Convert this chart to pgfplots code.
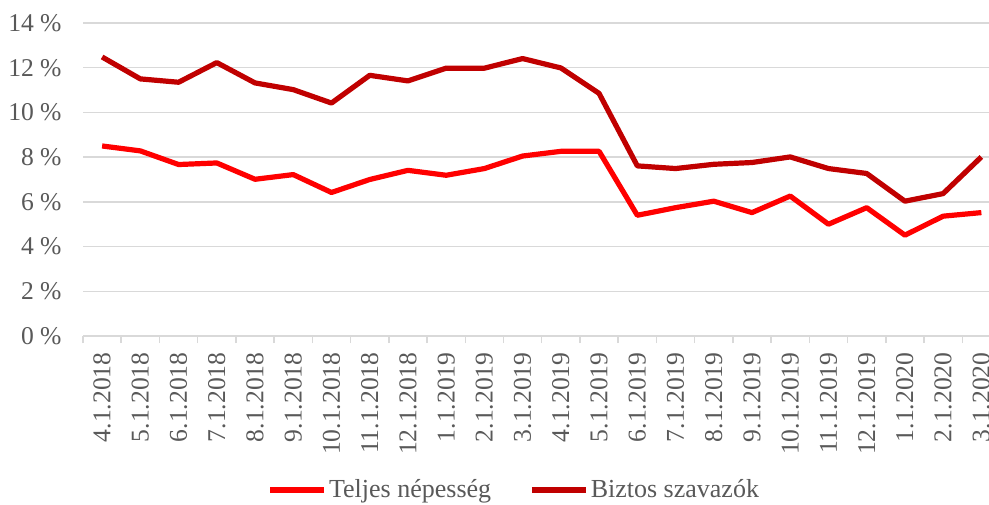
\documentclass[border=0pt]{standalone}
\usepackage{fontspec}
\setmainfont{Liberation Serif}
\usepackage{pgfplots}
\pgfplotsset{compat=1.18}
\definecolor{txt}{HTML}{595959}
\definecolor{gridc}{HTML}{D9D9D9}
\definecolor{c1}{HTML}{FF0000}
\definecolor{c2}{HTML}{C00000}
\begin{document}
\begin{tikzpicture}
\path[use as bounding box] (-41.5pt,-84pt) rectangle (453pt,168pt);
\clip (-41.5pt,-84pt) rectangle (453pt,168pt);
\begin{axis}[
  at={(0,0)}, anchor=south west, scale only axis,
  width=453pt, height=156.5pt,
  xmin=-0.5, xmax=23.2, ymin=0, ymax=14,
  axis x line*=bottom, axis y line*=left,
  y axis line style={draw=none},
  x axis line style={gridc, line width=0.75pt},
  ytick={0,2,...,14},
  yticklabels={0 \%,2 \%,4 \%,6 \%,8 \%,10 \%,12 \%,14 \%},
  ymajorgrids, grid style={gridc, line width=0.75pt},
  major tick length=0pt,
  xtick={0,...,23},
  xticklabels={4.1.2018,5.1.2018,6.1.2018,7.1.2018,8.1.2018,9.1.2018,10.1.2018,11.1.2018,12.1.2018,1.1.2019,2.1.2019,3.1.2019,4.1.2019,5.1.2019,6.1.2019,7.1.2019,8.1.2019,9.1.2019,10.1.2019,11.1.2019,12.1.2019,1.1.2020,2.1.2020,3.1.2020},
  minor xtick={-0.5,0.5,...,23.5},
  minor tick length=3.5pt,
  tick align=outside,
  minor tick style={gridc, line width=0.75pt},
  xminorgrids=false,
  tick label style={font=\fontsize{12.8}{15}\selectfont, text=txt},
  x tick label style={rotate=90, anchor=east, inner sep=0pt},
  xticklabel shift=8pt,
  y tick label style={inner sep=0pt},
  yticklabel shift=10.5pt,
  legend columns=2,
  legend style={at={(0.476,-0.492)}, anchor=center, draw=none, fill=none,
    font=\fontsize{13}{15}\selectfont, text=txt,
    /tikz/every even column/.append style={column sep=18pt},
    nodes={inner sep=1pt}},
  legend image code/.code={\draw[#1, line width=2.8pt] (0pt,0pt) -- (27pt,0pt);},
  line join=round,
]
\addplot[c1, line width=2.6pt, mark=none] coordinates {
(0,8.50) (1,8.28) (2,7.67) (3,7.74) (4,7.01) (5,7.22) (6,6.42) (7,7.00)
(8,7.41) (9,7.19) (10,7.49) (11,8.05) (12,8.26) (13,8.26) (14,5.40) (15,5.74)
(16,6.03) (17,5.52) (18,6.26) (19,5.00) (20,5.74) (21,4.51) (22,5.36) (23,5.52)};
\addlegendentry{Teljes népesség}
\addplot[c2, line width=2.6pt, mark=none] coordinates {
(0,12.48) (1,11.50) (2,11.35) (3,12.23) (4,11.32) (5,11.02) (6,10.42) (7,11.66)
(8,11.41) (9,11.98) (10,11.98) (11,12.41) (12,11.99) (13,10.85) (14,7.61) (15,7.49)
(16,7.68) (17,7.76) (18,8.01) (19,7.49) (20,7.27) (21,6.03) (22,6.37) (23,8.01)};
\addlegendentry{Biztos szavazók}
\end{axis}
\end{tikzpicture}
\end{document}
